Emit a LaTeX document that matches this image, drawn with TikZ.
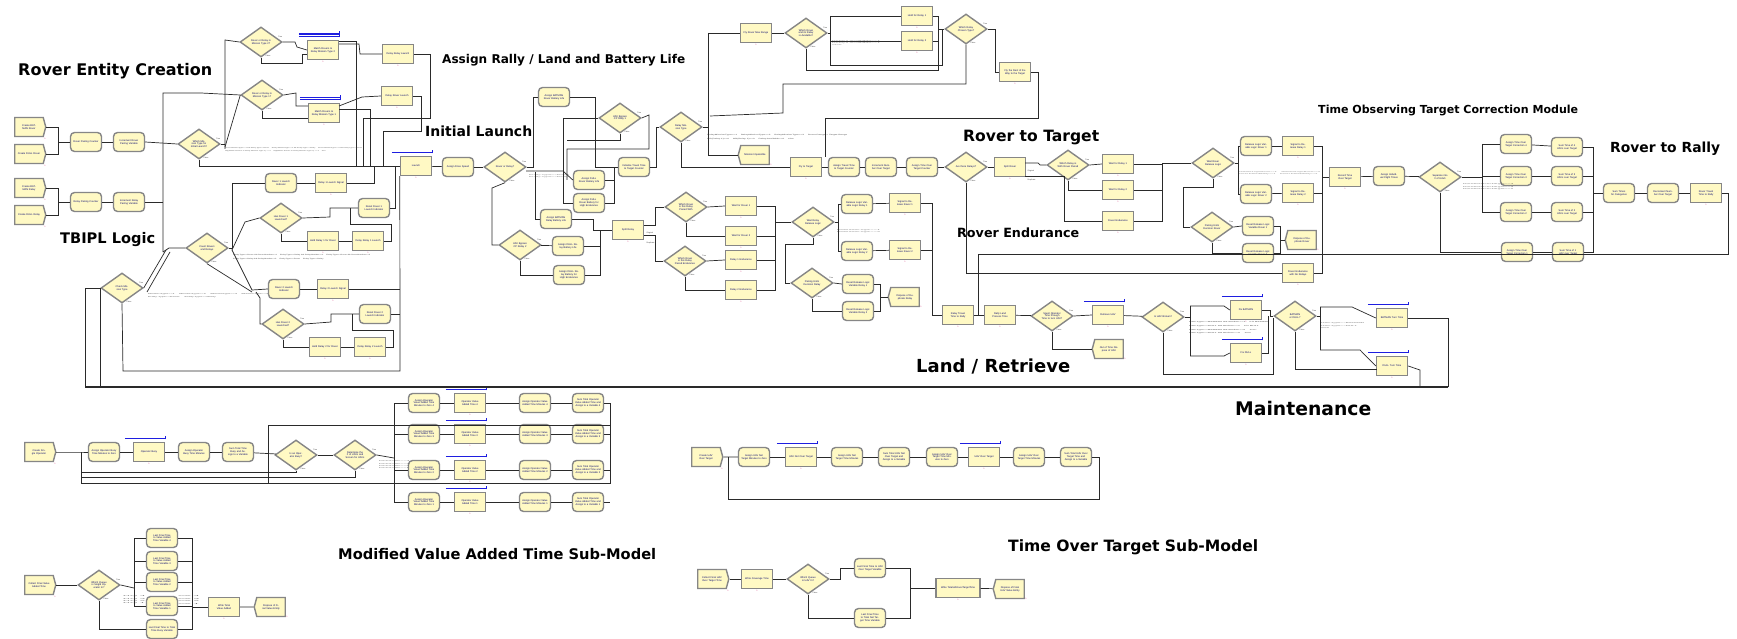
\documentclass[tikz,border=0pt]{standalone}
\usepackage{fontspec}
\usepackage{graphicx}
\setmainfont{Liberation Sans}
\newfontfamily\headfont{DejaVu Sans}
\usetikzlibrary{shapes.geometric,shapes.symbols}
\definecolor{modfill}{HTML}{FFF9C4}
\definecolor{modedge}{HTML}{868686}
\definecolor{modtext}{HTML}{0C0C70}
\definecolor{wire}{HTML}{2A2A2A}
\definecolor{qblue}{HTML}{1E1EE0}
\definecolor{cntred}{HTML}{D4357A}
\definecolor{condgray}{HTML}{454545}
\newcommand\mfont{\fontsize{2.5}{2.8}\selectfont}
\newcommand\sfont{\fontsize{1.9}{2.1}\selectfont}
\tikzset{
  mod/.style={fill=modfill, draw=modedge, line width=1.4pt, minimum width=31pt,
    minimum height=19pt, inner sep=0.5pt, text width=27pt, align=center,
    font=\mfont, text=modtext},
  cnt/.style={font=\sfont, text=cntred, inner sep=0.3pt},
  tf/.style={font=\sfont, text=condgray, inner sep=0.4pt},
  proc/.style={mod, rectangle, label={[cnt]below:0}},
  asg/.style={mod, rectangle, rounded corners=4pt},
  crt/.style={mod, signal, signal to=east, signal pointer angle=150, text width=24pt, label={[cnt]south east:0}},
  dsp/.style={mod, signal, signal to=west, signal pointer angle=150, text width=24pt, label={[cnt]south east:0}},
  dec/.style={mod, diamond, aspect=1.4, minimum width=42pt, minimum height=30pt,
    inner sep=0pt, text width=21pt, label={[tf]12:True}, label={[tf]-72:False}},
  con/.style={draw=wire, line width=0.7pt},
  trunk/.style={draw=wire, line width=1.2pt},
  qpen/.style={draw=qblue, line width=0.55pt},
  head/.style={inner sep=0pt, anchor=west, text=black},
  cnd/.style={inner sep=0pt, anchor=west, text=condgray},
}
% queue bar above a hold module: [number of bars]{node}
\newcommand\qline[2][1]{%
  \foreach \k in {1,...,#1}{\draw[qpen] ([xshift=-8pt,yshift=2.5pt+1.5pt*\k]#2.north west) -- ([yshift=2.5pt+1.5pt*\k]#2.north east);}%
  \draw[qpen] ([yshift=2.5pt]#2.north east) -- ([yshift=4.5pt+1.5pt*#1]#2.north east);}
% section heading: name, left point, width, text
\newcommand\hd[4]{\node[head] (#1) at (#2) {\resizebox{#3pt}{!}{\headfont\bfseries #4}};}
% decide condition strip: name, left point, width, height, text
\newcommand\cn[5]{\node[cnd] (#1) at (#2) {\resizebox{#3pt}{#4pt}{\sfont\shortstack[l]{#5}}};}

\begin{document}
\begin{tikzpicture}[x=1pt,y=-1pt]
\fill[white] (0,0) rectangle (1737,639);
\useasboundingbox (0,0) rectangle (1737,639);

% ---------------- section headings
\hd{h1}{18,71}{194}{Rover Entity Creation}
\hd{h2}{60,240}{95}{TBIPL Logic}
\hd{h3}{442,60}{243}{Assign Rally / Land and Battery Life}
\hd{h4}{425,131}{107}{Initial Launch}
\hd{h5}{963,138}{136}{Rover to Target}
\hd{h6}{957,233}{122}{Rover Endurance}
\hd{h7}{916,367}{154}{Land / Retrieve}
\hd{h8}{1235,409}{136}{Maintenance}
\hd{h9}{1318,110}{260}{Time Observing Target Correction Module}
\hd{h10}{1610,149}{110}{Rover to Rally}
\hd{h11}{338,554}{318}{Modified Value Added Time Sub-Model}
\hd{h12}{1008,547}{250}{Time Over Target Sub-Model}

% ---------------- rover entity creation
\node[crt] (cbr) at (29,127) {Create BATMAN Rover};
\node[crt] (cdr) at (29,154) {Create DULL Rover};
\node[crt] (cbl) at (29,188) {Create BATMAN Relay};
\node[crt] (cdl) at (29,215) {Create DULL Relay};
\node[asg] (rpc) at (86,142) {Rover Pairing Counter};
\node[asg] (irp) at (129,142) {Increment Rover Pairing Variable};
\node[asg] (lpc) at (86,202) {Relay Pairing Counter};
\node[asg] (ilp) at (129,202) {Increment Relay Pairing Variable};
\node[dec] (wmt) at (199,144) {Which Mission Type for Initial Launch?};
\node[dec] (dt2) at (261,42) {Rover or Relay in Mission Type 2?};
\node[dec] (dt1) at (262,95) {Rover or Relay in Mission Type 1?};
\node[proc] (mt2) at (323,50) {Match Rovers to Relay Mission Type 2};
\node[proc] (mt1) at (324,113) {Match Rovers to Relay Mission Type 1};
\node[proc] (drl) at (398,54) {Delay Relay Launch};
\node[proc] (dro) at (397,96) {Delay Rover Launch};
\node[proc] (lau) at (416,166) {Launch};
\qline[3]{mt2}
\qline[2]{mt1}
\qline{lau}

% ---------------- TBIPL logic
\node[dec] (cmt) at (122,288) {Check Mission Type};
\node[dec] (crr) at (207,248) {Count Rovers and Relays};
\node[asg] (r1i) at (281,183) {Rover 1 Launch Indicator};
\node[proc] (r1s) at (331,183) {Relay 1 Launch Signal};
\node[dec] (h1l) at (281,218) {Has Rover 1 Launched?};
\node[asg] (rr1) at (374,208) {Reset Rover 1 Launch Indicator};
\node[proc] (hr1) at (323,241) {Hold Relay 1 for Rover};
\node[proc] (dr1) at (368,241) {Delay Relay 1 Launch};
\node[asg] (r2i) at (284,289) {Rover 2 Launch Indicator};
\node[proc] (r2s) at (333,289) {Relay 2 Launch Signal};
\node[dec] (h2l) at (283,324) {Has Rover 2 Launched?};
\node[asg] (rr2) at (375,314) {Reset Rover 2 Launch Indicator};
\node[proc] (hr2) at (325,347) {Hold Relay 2 for Rover};
\node[proc] (dr2) at (370,347) {Delay Relay 2 Launch};

% ---------------- initial launch / battery life
\node[asg] (ads) at (458,167) {Assign Drive Speed};
\node[dec] (ror) at (505,167) {Rover or Relay?};
\node[asg] (abr) at (554,97) {Assign BATMAN Rover Battery Life};
\node[dec] (ub1) at (620,118) {UAV Bypass CP Rally 1};
\node[asg] (adr) at (589,180) {Assign DULL Rover Battery Life};
\node[asg] (adh) at (589,203) {Assign DULL Rover Battery for High Endurance};
\node[asg] (itt) at (634,167) {Initialize Travel Time to Target Counter};
\node[dec] (ub2) at (520,245) {UAV Bypass CP Relay 2};
\node[asg] (abl) at (556,219) {Assign BATMAN Relay Battery Life};
\node[asg] (adl) at (568,246) {Assign DULL Relay Battery Life};
\node[asg] (adlh) at (569,275) {Assign DULL Relay Battery for High Endurance};
\node[proc] (spl) at (628,230) {Split Relay};
\node[dec] (wrp) at (686,207) {Which Rover is this Relay Paired With};
\node[proc] (wr1) at (741,206) {Wait for Rover 1};
\node[proc] (wr2) at (741,236) {Wait for Rover 2};
\node[dec] (wre) at (685,261) {Which Rover is this Relay Paired Endurance};
\node[proc] (re1) at (741,260) {Relay 1 Endurance};
\node[proc] (re2) at (741,290) {Relay 2 Endurance};
\node[dec] (wrl) at (813,222) {Wait Relay Release Logic};
\node[asg] (rl1) at (857,204) {Release Logic Variable Logic Relay 1};
\node[asg] (rl2) at (857,251) {Release Logic Variable Logic Relay 2};
\node[dec] (pdr) at (812,283) {Pairing Units Decision Relay};
\node[asg] (rs1) at (858,284) {Reset Release Logic Variable Relay 1};
\node[asg] (rs2) at (858,311) {Reset Release Logic Variable Relay 2};
\node[proc] (sr1) at (905,203) {Signal to Release Rover 1};
\node[proc] (sr2) at (905,250) {Signal to Release Rover 2};
\node[dsp] (ddl) at (905,297) {Dispose of Duplicate Relay};

% ---------------- relay mission / rover to target
\node[dec] (rmt) at (681,127) {Relay Mission Type};
\node[proc] (fmr) at (756,33) {Fly Rover Max Range};
\node[dec] (wra) at (806,33) {Which Rover and its Relay is Available?};
\node[dsp] (mip) at (755,155) {Mission Impossible};
\node[proc] (fly) at (806,167) {Fly to Target};
\node[asg] (att) at (844,167) {Assign Travel Time to Target Counter};
\node[asg] (inc) at (881,167) {Increment Number Over Target};
\node[asg] (atc) at (922,167) {Assign Time Over Target Counter};
\node[dec] (atr) at (966,167) {Are there Relays?};
\node[proc] (hl1) at (917,16) {Hold for Relay 1};
\node[proc] (hl2) at (917,41) {Hold for Relay 2};
\node[dec] (wrc) at (966,29) {Which Relay Chosen Type?};
\node[proc] (frw) at (1015,72) {Fly the Rest of the Way to the Target};
\node[proc] (srv) at (1010,167) {Split Rover};
\node[dec] (wrw) at (1068,165) {Which Relay is With Rover Paired};
\node[proc] (wy1) at (1118,164) {Wait for Relay 1};
\node[proc] (wy2) at (1118,190) {Wait for Relay 2};
\node[proc] (ren) at (1118,221) {Rover Endurance};
\node[dec] (wrr) at (1213,163) {Wait Rover Release Logic};
\node[asg] (rv1) at (1256,146) {Release Logic Variable Logic Rover 1};
\node[proc] (sy1) at (1298,146) {Signal to Release Relay 1};
\node[asg] (rv2) at (1256,194) {Release Logic Variable Logic Rover 2};
\node[proc] (sy2) at (1298,193) {Signal to Release Relay 2};
\node[dec] (pdv) at (1212,227) {Pairing Units Decision Rover};
\node[asg] (rt1) at (1258,226) {Reset Release Logic Variable Rover 1};
\node[asg] (rt2) at (1258,253) {Reset Release Logic Variable Rover 2};
\node[dsp] (ddr) at (1302,240) {Dispose of Duplicate Rover};
\node[proc] (rnr) at (1298,273) {Rover Endurance with No Relays};

% ---------------- land / retrieve and maintenance
\node[proc] (rtr) at (958,315) {Relay Travel Time to Rally};
\node[proc] (rlp) at (1000,315) {Rally Land Process Time};
\node[dec] (sot) at (1052,316) {Spent Operator Time through Time to turn UAV?};
\node[proc] (rtv) at (1108,315) {Retrieve UAV};
\node[dsp] (oot) at (1109,349) {Out of Time Dispose of UAV};
\node[dec] (iub) at (1163,317) {Is UAV Broken?};
\node[proc] (fxb) at (1246,310) {Fix BATMAN};
\node[proc] (fxd) at (1246,353) {Fix DULL};
\node[dec] (bod) at (1295,316) {BATMAN or DULL?};
\node[proc] (btt) at (1392,318) {BATMAN Turn Time};
\node[proc] (dtt) at (1392,366) {DULL Turn Time};
\qline{rtv}
\qline{fxb}
\qline{fxd}
\qline{btt}
\qline{dtt}

% ---------------- time observing target correction / rover to rally
\node[proc] (rto) at (1345,177) {Record Time Over Target};
\node[asg] (aif) at (1389,176) {Assign Individual Flight Times};
\node[dec] (sep) at (1440,177) {Separate into \# of UAVs};
\node[asg] (c4) at (1516,144) {Assign Time Over Target Correction 4};
\node[asg] (c3) at (1516,176) {Assign Time Over Target Correction 3};
\node[asg] (c2) at (1516,212) {Assign Time Over Target Correction 2};
\node[asg] (c1) at (1517,252) {Assign Time Over Target Correction 1};
\node[asg] (s4) at (1567,147) {Sum Time of 4 UAVs over Target};
\node[asg] (s3) at (1567,176) {Sum Time of 3 UAVs over Target};
\node[asg] (s2) at (1567,212) {Sum Time of 2 UAVs over Target};
\node[asg] (s1) at (1568,252) {Sum Time of 1 UAV over Target};
\node[asg] (stc) at (1619,193) {Sum Times for Categories};
\node[asg] (dnt) at (1663,193) {Decrement Number Over Target};
\node[proc] (rtt) at (1706,193) {Rover Travel Time to Rally};

% ---------------- operator value added time
\node[crt] (cso) at (39,452) {Create Single Operator};
\node[asg] (ob0) at (104,452) {Assign Operator Busy Time Minutes to Zero};
\node[proc] (obz) at (149,452) {Operator Busy};
\node[asg] (obt) at (194,452) {Assign Operator Busy Time Minutes};
\node[asg] (stb) at (238,452) {Sum Total Time Busy and Assign to a Variable};
\node[dec] (iob) at (296,455) {Is an Operator Busy?};
\node[dec] (dnu) at (355,455) {Determine the \# of UAVs and Screen for UAVs};
\qline{obz}
\foreach \r/\y in {4/403,3/434,2/470,1/502}{
  \node[asg] (az\r) at (424,\y) {Assign Operator Value Added Time Minutes to Zero \r};
  \node[proc] (ov\r) at (470,\y) {Operator Value Added Time \r};
  \node[asg] (am\r) at (535,\y) {Assign Operator Value Added Time Minutes \r};
  \node[asg] (sv\r) at (588,\y) {Sum Total Operator Value Added Time and Assign to a Variable \r};
  \qline{ov\r}
}

\node[crt] (cfv) at (39,585) {Collect Final Value Added Time};
\node[dec] (wqs) at (99,585) {Which Queue is Single Operator In?};
\node[asg] (lf1) at (162,538) {Last Final Time to Value Added Time Variable 4};
\node[asg] (lf2) at (162,561) {Last Final Time to Value Added Time Variable 3};
\node[asg] (lf3) at (162,582) {Last Final Time to Value Added Time Variable 2};
\node[asg] (lf4) at (162,606) {Last Final Time to Value Added Time Variable 1};
\node[asg] (lf5) at (162,629) {Last Final Time to Total Time Busy Variable};
\node[proc] (wtv) at (224,607) {Write Total Value Added};
\node[dsp] (dfv) at (271,607) {Dispose of Final Value Entity};

% ---------------- UAV over target
\node[crt] (cuo) at (706,457) {Create UAV Over Target};
\node[asg] (anz) at (754,457) {Assign UAV Not Target Minutes to Zero};
\node[proc] (uno) at (801,457) {UAV Not Over Target};
\node[asg] (ant) at (847,457) {Assign UAV Not Target Time Minutes};
\node[asg] (snt) at (894,457) {Sum Total UAV Not Over Target and Assign to a Variable};
\node[asg] (aoz) at (942,457) {Assign UAV Over Target Time Minutes to Zero};
\node[proc] (uot) at (984,457) {UAV Over Target};
\node[asg] (aot) at (1029,457) {Assign UAV Over Target Time Minutes};
\node[asg] (sut) at (1076,457) {Sum Total UAV Over Target Time and Assign to a Variable};
\qline{uno}
\qline{uot}

\node[crt] (cfu) at (712,579) {Collect Final UAV Over Target Time};
\node[proc] (wct) at (757,579) {Write Coverage Time};
\node[dec] (wqu) at (808,579) {Which Queue is UAV In?};
\node[asg] (lfo) at (870,568) {Last Final Time to UAV Over Target Variable};
\node[asg] (lfn) at (870,618) {Last Final Time to Total Not Target Time Variable};
\node[proc, text width=40pt, minimum width=44pt] (wtt) at (958,588) {Write TotalUAVoverTargetTime};
\node[dsp] (dfu) at (1010,589) {Dispose of Final UAV Value Entity};

% ---------------- condition strips of the n-way decides
\cn{k1}{225,150}{137}{4}{Rover.MissionType==1 \&\& Entity.Type==Rover \quad Relay.MissionType==1 \&\& Entity.Type==Relay \quad Rover.MissionType==2 \&\& Entity.Type==Rover\\ NQ(Match Rovers to Relay Mission Type 1) == 0 \quad NQ(Match Rovers to Relay Mission Type 2) == 0 \quad else}
\cn{k2}{233,257}{137}{5}{Entity.Type==Rover \&\& RoverNumber==1 \quad Entity.Type==Relay \&\& RelayNumber==1 \quad Entity.Type==Rover \&\& RoverNumber==2\\ Entity.Type==Relay \&\& RelayNumber==2 \quad Entity.Type==Rover \quad Entity.Type==Relay}
\cn{k3}{148,296}{120}{4}{MissionType==1 \quad MissionType==2 \quad MissionType==3 \quad MissionType==4\\ Entity.Type==Rover \quad Entity.Type==Relay}
\cn{k4}{707,137}{140}{5}{RelayMissionType==1 \quad RelayMissionType==2 \quad RelayMissionType==3 \quad Rover.Range \textless\ Target.Range\\ NR(Relay 1)==0 \quad NR(Relay 2)==0 \quad Relay.Available==0 \quad else}
\cn{k5}{832,43}{48}{5}{Relay1.Available==1\\ Relay2.Available==1\\ else}
\cn{k6}{529,176}{40}{3}{Entity.Type==Rover\\ Entity.Type==Relay}
\cn{k7}{837,231}{43}{3}{ReleaseLogic==1\\ ReleaseLogic==2}
\cn{k8}{1238,173}{82}{3}{ReleaseLogicRover==1 \quad ReleaseLogicRover==2\\ Rover.PairedRelay==1 \quad Rover.PairedRelay==2}
\cn{k9}{1189,328}{80}{12}{UAV.Type==BATMAN \&\& Broken==1 \quad Fix BATMAN\\ UAV.Type==DULL \&\& Broken==1 \quad Fix DULL\\ UAV.Type==BATMAN \&\& Broken==0 \quad Turn\\ UAV.Type==DULL \&\& Broken==0 \quad Turn}
\cn{k10}{1321,326}{43}{6}{UAV.Type==BATMAN\\ UAV.Type==DULL\\ else}
\cn{k11}{1463,187}{50}{6}{NumberOverTarget==4\\ NumberOverTarget==3\\ NumberOverTarget==2}
\cn{k12}{379,465}{30}{8}{NumUAV==4\\ NumUAV==3\\ NumUAV==2\\ NumUAV==1}
\cn{k13}{123,600}{22}{8}{NQ 4\\ NQ 3\\ NQ 2\\ NQ 1}
\cn{k14}{178,600}{21}{8}{VA 4\\ VA 3\\ VA 2\\ VA 1}
\node[tf, anchor=west] (o1) at (646,233) {Original};
\node[tf, anchor=west] (o2) at (646,243) {Duplicate};
\node[tf, anchor=west] (o3) at (1027,171) {Original};
\node[tf, anchor=west] (o4) at (1027,180) {Duplicate};

% ================= connectors
% rover / relay creation
\draw[con] (cbr.east) -- (58,127) -- (58,154) -- (cdr.east);
\draw[con] (58,142) -- (rpc.west);
\draw[con] (rpc) -- (irp);
\draw[con] (irp.east) -- (wmt.west);
\draw[con] (cbl.east) -- (58,188) -- (58,215) -- (cdl.east);
\draw[con] (58,202) -- (lpc.west);
\draw[con] (lpc) -- (ilp);
\draw[con] (ilp.east) -- (163,202);
\draw[con] (163,252) -- (163,93) -- (201,93) -- (dt1.west);
\draw[con] (163,252) -- (169,248) -- (crr.west);
\draw[con] (cmt.east) -- (166,250);
\draw[con] (147,292) -- (170,252);
% initial launch branch
\draw[con] (wmt.east) -- (225,144);
\draw[con] (225,149) -- (225,40) -- (dt2.west);
\draw[con] (225,147) -- (dt1.west);
\draw[con] (wmt.south) -- (199,166) -- (lau.west);
\draw[con] (dt2.east) -- (295,42) -- (297,47) -- (mt2.west);
\draw[con] (dt2.south) -- (261,63) -- (302,63) -- (302,54) -- (307,54);
\draw[con] (dt1.east) -- (296,93) -- (296,106) -- (308,106);
\draw[con] (dt1.south) |- (308,118);
\draw[con] (339,44) -- (359,44) -- (360,54) -- (drl.west);
\draw[con] (339,41) -- (356,41) -- (356,166);
\draw[con] (339,106) -- (362,97) -- (dro.west);
\draw[con] (339,109) -- (370,109) -- (370,166);
\draw[con] (drl.east) -- (430,54) -- (430,118) -- (363,118) -- (363,166);
\draw[con] (dro.east) -- (421,96) -- (421,131) -- (383,131) -- (383,166);
% TBIPL
\draw[con] (crr.east) -- (232,248) -- (232,183) -- (r1i.west);
\draw[con] (232,250) -- (245,222) -- (h1l.west);
\draw[con] (232,250) -- (252,290) -- (r2i.west);
\draw[con] (crr.south) -- (252,292);
\draw[con] (256,292) -- (260,298) -- (260,324) -- (h2l.west);
\draw[con] (r1i) -- (r1s);
\draw[con] (r1s.east) -- (374,183) -- (374,166);
\draw[con] (h1l.east) -- (330,217) -- (330,208) -- (rr1.west);
\draw[con] (h1l.south) |- (hr1.west);
\draw[con] (hr1) -- (dr1);
\draw[con] (dr1.east) -- (391,241) -- (391,224) -- (350,224) -- (350,208);
\draw[con] (rr1.east) -- (395,208) -- (395,166);
\draw[con] (r2i) -- (r2s);
\draw[con] (r2s.east) -- (400,289);
\draw[con] (h2l.east) -- (331,322) -- (331,314) -- (rr2.west);
\draw[con] (h2l.south) |- (hr2.west);
\draw[con] (hr2) -- (dr2);
\draw[con] (dr2.east) -- (393,347) -- (393,330) -- (352,330) -- (352,314);
\draw[con] (rr2.east) -- (400,314);
\draw[con] (cmt.south) -- (123,371) -- (400,371) -- (lau.south west);
\draw[con] (85,387) -- (85,288) -- (cmt.west);
\draw[con] (100,387) -- (100,288);
% battery life assignment
\draw[con] (lau) -- (ads);
\draw[con] (ads) -- (ror);
\draw[con] (ror.east) -- (533,167) -- (533,97) -- (abr.west);
\draw[con] (526,171) -- (563,171) -- (adr.west);
\draw[con] (563,118) -- (ub1.west);
\draw[con] (563,118) -- (563,203) -- (adh.west);
\draw[con] (ub1.east) -- (649,115) -- (649,149) -- (567,149) -- (567,180);
\draw[con] (ub1.south) -- (620,140) -- (567,140);
\draw[con] (abr.east) -- (595,97) -- (595,167) -- (itt.west);
\draw[con] (adr.east) -- (614,180) -- (614,167);
\draw[con] (adh.east) -- (614,203) -- (614,180);
\draw[con] (ror.south) -- (492,188) -- (492,245) -- (ub2.west);
\draw[con] (535,172) -- (535,219) -- (abl.west);
\draw[con] (ub2) -- (adl);
\draw[con] (ub2.south) |- (adlh.west);
\draw[con] (abl.east) -- (593,219) -- (593,230) -- (spl.west);
\draw[con] (adl.east) -- (600,246) -- (600,230);
\draw[con] (adlh.east) -- (600,275) -- (600,246);
\draw[con] (644,225) -- (655,225) -- (655,207) -- (wrp.west);
\draw[con] (644,235) -- (655,235) -- (655,261) -- (wre.west);
\draw[con] (wrp.east) -- (wr1.west);
\draw[con] (wrp.south) |- (wr2.west);
\draw[con] (wre.east) -- (re1.west);
\draw[con] (wre.south) |- (re2.west);
\draw[con] (wr1.east) -- (775,206) -- (775,290) -- (re2.east);
\draw[con] (wr2.east) -- (775,236);
\draw[con] (re1.east) -- (775,260);
\draw[con] (775,222) -- (wrl.west);
\draw[con] (wrl.east) -- (838,222);
\draw[con] (838,204) -- (838,251);
\draw[con] (838,204) -- (rl1.west);
\draw[con] (838,251) -- (rl2.west);
\draw[con] (wrl.south) -- (813,244) -- (785,244) -- (785,283) -- (pdr.west);
\draw[con] (pdr.east) -- (rs1.west);
\draw[con] (pdr.south) |- (rs2.west);
\draw[con] (rl1) -- (sr1);
\draw[con] (rl2) -- (sr2);
\draw[con] (rs1.east) -- (880,284) -- (880,311) -- (rs2.east);
\draw[con] (880,297) -- (ddl.west);
\draw[con] (sr1.east) -- (932,203) -- (932,315) -- (rtr.west);
\draw[con] (sr2.east) -- (932,250);
% relay mission type and rover to target
\draw[con] (itt.east) -- (656,167) -- (656,127) -- (rmt.west);
\draw[con] (rmt.east) -- (708,127);
\draw[con] (708,33) -- (708,155);
\draw[con] (708,33) -- (fmr.west);
\draw[con] (708,155) -- (mip.west);
\draw[con] (710,116) -- (783,113) -- (783,84) -- (966,84) -- (wrc.south);
\draw[con] (rmt.south) |- (fly.west);
\draw[con] (fmr) -- (wra);
\draw[con] (wra.east) -- (830,33);
\draw[con] (830,16) -- (830,65);
\draw[con] (830,16) -- (hl1.west);
\draw[con] (830,41) -- (hl2.west);
\draw[con] (830,65) -- (942,65) -- (942,29);
\draw[con] (wra.south) -- (806,70) -- (938,70) -- (938,41);
\draw[con] (hl1.east) -- (938,16) -- (938,29) -- (wrc.west);
\draw[con] (hl2.east) -- (938,41) -- (938,29);
\draw[con] (wrc.east) -- (995,29) -- (995,72) -- (frw.west);
\draw[con] (frw.east) -- (1038,72) -- (1038,118) -- (825,118) -- (825,157);
\draw[con] (fly) -- (att);
\draw[con] (att) -- (inc);
\draw[con] (inc) -- (atc);
\draw[con] (atc) -- (atr);
\draw[con] (atr.east) -- (srv.west);
\draw[con] (atr.south) |- (rnr.west);
\draw[con] (1025,163) -- (1038,163) -- (1040,165) -- (wrw.west);
\draw[con] (1025,176) -- (1064,176) -- (1064,221) -- (ren.west);
\draw[con] (wrw.east) -- (wy1.west);
\draw[con] (wrw.south) |- (wy2.west);
\draw[con] (wy1.east) -- (1162,164);
\draw[con] (wy2.east) -- (1162,190);
\draw[con] (ren.east) -- (1162,221) -- (1162,163) -- (wrr.west);
\draw[con] (wrr.east) -- (1238,163);
\draw[con] (1238,146) -- (1238,194);
\draw[con] (1238,146) -- (rv1.west);
\draw[con] (1238,194) -- (rv2.west);
\draw[con] (wrr.south) -- (1213,187) -- (1183,187) -- (1183,227) -- (pdv.west);
\draw[con] (rv1) -- (sy1);
\draw[con] (rv2) -- (sy2);
\draw[con] (pdv.east) -- (rt1.west);
\draw[con] (pdv.south) |- (rt2.west);
\draw[con] (rt1.east) -- (1280,226) -- (1280,253) -- (rt2.east);
\draw[con] (1280,240) -- (ddr.west);
\draw[con] (sy1.east) -- (1322,146) -- (1322,273) -- (rnr.east);
\draw[con] (sy2.east) -- (1322,193);
\draw[con] (1322,177) -- (rto.west);
% time observing target correction
\draw[con] (rto) -- (aif);
\draw[con] (aif) -- (sep);
\draw[con] (sep.east) -- (1482,177);
\draw[con] (1482,144) -- (1482,212);
\draw[con] (1482,144) -- (c4.west);
\draw[con] (1482,176) -- (c3.west);
\draw[con] (1482,212) -- (c2.west);
\draw[con] (sep.south) |- (c1.west);
\draw[con] (c4) -- (s4);
\draw[con] (c3) -- (s3);
\draw[con] (c2) -- (s2);
\draw[con] (c1) -- (s1);
\draw[con] (s4.east) -- (1593,147) -- (1593,252) -- (s1.east);
\draw[con] (s3.east) -- (1593,176);
\draw[con] (s2.east) -- (1593,212);
\draw[con] (1593,193) -- (stc.west);
\draw[con] (stc) -- (dnt);
\draw[con] (dnt) -- (rtt);
\draw[con] (rtt.east) -- (1728,193) -- (1728,254) -- (978,254) -- (978,315);
% land, retrieve, maintenance
\draw[con] (rtr) -- (rlp);
\draw[con] (rlp) -- (sot);
\draw[con] (sot.east) -- (rtv.west);
\draw[con] (sot.south) |- (oot.west);
\draw[con] (rtv) -- (iub);
\draw[con] (iub.east) -- (1190,317);
\draw[con] (1190,306) -- (1190,356);
\draw[con] (1190,306) -- (1224,306) -- (fxb.west);
\draw[con] (1190,356) -- (1224,356) -- (fxd.west);
\draw[con] (iub.south) -- (1163,374) -- (1273,374) -- (1273,318);
\draw[con] (fxb.east) -- (1270,310) -- (1270,316) -- (bod.west);
\draw[con] (fxd.east) -- (1268,353) -- (1268,316);
\draw[con] (bod.east) -- (1320,316);
\draw[con] (1320,307) -- (1320,350);
\draw[con] (1320,307) -- (1352,307) -- (btt.west);
\draw[con] (1320,350) -- (1360,350) -- (dtt.west);
\draw[con] (bod.south) |- (1377,369);
\draw[con] (btt.east) -- (1448,318) -- (1448,387);
\draw[con] (dtt.east) -- (1420,370) -- (1420,387);
\draw[trunk] (1448,387) -- (85,387);
% operator value added time
\draw[con] (cso.east) -- (80,452) -- (ob0.west);
\draw[con] (ob0) -- (obz);
\draw[con] (obz) -- (obt);
\draw[con] (obt) -- (stb);
\draw[con] (stb) -- (iob);
\draw[con] (iob.east) -- (dnu.west);
\draw[con] (iob.south) -- (296,472) -- (81,472);
\draw[con] (dnu.south) -- (355,477) -- (81,477);
\draw[con] (dnu.east) -- (394,458);
\draw[con] (394,403) -- (394,502);
\foreach \r/\y in {4/403,3/434,2/470,1/502}{
  \draw[con] (394,\y) -- (az\r.west);
  \draw[con] (az\r) -- (ov\r);
  \draw[con] (ov\r) -- (am\r);
  \draw[con] (am\r) -- (sv\r);
  \draw[con] (sv\r.east) -- (610,\y);
}
\draw[con] (610,403) -- (610,483) -- (81,483) -- (81,452);
\draw[con] (268,483) -- (268,425) -- (610,425);
% final value added time
\draw[con] (cfv) -- (wqs);
\draw[con] (wqs.east) -- (134,588);
\draw[con] (134,538) -- (134,606);
\draw[con] (134,538) -- (lf1.west);
\draw[con] (134,561) -- (lf2.west);
\draw[con] (134,582) -- (lf3.west);
\draw[con] (134,606) -- (lf4.west);
\draw[con] (wqs.south) |- (lf5.west);
\draw[con] (lf1.east) -- (192,538) -- (192,629) -- (lf5.east);
\draw[con] (lf2.east) -- (192,561);
\draw[con] (lf3.east) -- (192,582);
\draw[con] (lf4.east) -- (192,606);
\draw[con] (192,607) -- (wtv.west);
\draw[con] (wtv) -- (dfv);
% UAV over target loop
\draw[con] (cuo) -- (anz);
\draw[con] (anz) -- (uno);
\draw[con] (uno) -- (ant);
\draw[con] (ant) -- (snt);
\draw[con] (snt) -- (aoz);
\draw[con] (aoz) -- (uot);
\draw[con] (uot) -- (aot);
\draw[con] (aot) -- (sut);
\draw[con] (sut.east) -- (1099,457) -- (1099,499) -- (728,499) -- (728,457);
% final time over target
\draw[con] (cfu) -- (wct);
\draw[con] (wct) -- (wqu);
\draw[con] (wqu.east) -- (840,579) |- (lfo.west);
\draw[con] (wqu.south) |- (lfn.west);
\draw[con] (lfo.east) -- (910,568) -- (910,618) -- (lfn.east);
\draw[con] (910,588) -- (wtt.west);
\draw[con] (wtt) -- (dfu);
\end{tikzpicture}
\end{document}
